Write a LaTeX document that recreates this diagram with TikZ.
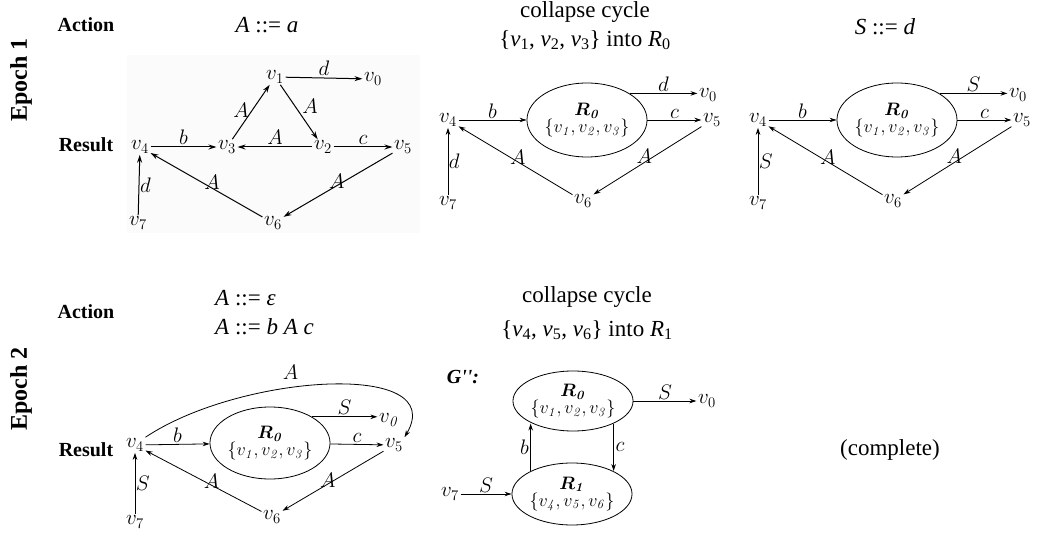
\RequirePackage{fix-cm}
\documentclass[tikz,border=0pt]{standalone}
\usepackage{amsmath}
\usepackage[no-math]{fontspec}
\setmainfont{Liberation Serif}
\newfontfamily\rawserif{Liberation Serif}
\usetikzlibrary{shapes.geometric,arrows.meta}
\newcommand\gfont{\fontsize{21}{21}\selectfont}
\newcommand\efont{\fontsize{18}{15}\selectfont}
\newcommand\hfont{\fontsize{20}{20}\selectfont\bfseries}
\newcommand\dfont{\fontsize{23}{23}\selectfont}
\newcommand\Rz{$\boldsymbol{R}_{\boldsymbol{\mathit{0}}}$}
\newcommand\Ro{$\boldsymbol{R}_{\boldsymbol{\mathit{1}}}$}
\newcommand\vv[1]{\textit{v}\textsubscript{#1}}
\tikzset{
  vtx/.style={inner sep=1.5pt, font=\gfont},
  elab/.style={inner sep=1.5pt, font=\gfont},
  arr/.style={-{Stealth[length=7pt,width=4.5pt]}, line width=0.8pt},
  arrA/.style={-{Stealth[length=8pt,width=5pt]}, line width=1pt},
  reg/.style={ellipse, draw, line width=0.8pt, inner sep=0pt, align=center, font=\efont},
  hd/.style={font=\hfont, inner sep=0pt},
  rot/.style={font=\fontsize{24}{24}\selectfont\bfseries, rotate=90, inner sep=0pt},
  desc/.style={font=\dfont, inner sep=0pt},
}
\begin{document}
\begin{tikzpicture}[x=1pt,y=-1pt]
\useasboundingbox (0,0) rectangle (1042,537);
% ---------- row labels ----------
\node[rot] (ep1) at (21,80) {Epoch 1};
\node[rot] (ep2) at (21,389) {Epoch 2};
\node[hd] (act1) at (86,25) {Action};
\node[hd] (res1) at (86,145) {Result};
\node[hd] (act2) at (86,312) {Action};
\node[hd] (res2) at (86,450) {Result};
% ---------- descriptions ----------
\node[desc] (d1) at (267,25) {\textit{A} ::= \textit{a}};
\node[desc] (d2a) at (585,12) {collapse cycle};
\node[desc] (d2b) at (585,40) {\{\vv{1}, \vv{2}, \vv{3}\} into \textit{R}\textsubscript{0}};
\node[desc] (d3) at (885,27) {\textit{S} ::= \textit{d}};
\node[desc, anchor=west] (d4a) at (215,298) {\textit{A} ::= \textit{ε}};
\node[desc, anchor=west] (d4b) at (215,327) {\textit{A} ::= \textit{b A c}};
\node[desc] (d5a) at (587,297) {collapse cycle};
\node[desc] (d5b) at (587,330) {\{\vv{4}, \vv{5}, \vv{6}\} into \textit{R}\textsubscript{1}};
\node[desc] (d6) at (890,450) {(complete)};
% ---------- graph 1 ----------
\fill[black!1.5] (127,55) rectangle (420,233);
\node[vtx] (a1) at (275,77) {$v_1$};
\node[vtx] (a0) at (373,79) {$v_0$};
\node[vtx] (a3) at (227,147) {$v_3$};
\node[vtx] (a2) at (323,147) {$v_2$};
\node[vtx] (a5) at (403,147) {$v_5$};
\node[vtx] (a4) at (140,147) {$v_4$};
\node[vtx] (a7) at (138,223) {$v_7$};
\node[vtx] (a6) at (273,223) {$v_6$};
\draw[arrA] (a1) -- node[elab, above] {$d$} (a0);
\draw[arrA] (a3) -- node[elab, midway, xshift=-10pt, yshift=2pt] {$A$} (a1);
\draw[arrA] (a1) -- node[elab, midway, xshift=11pt, yshift=6pt] {$A$} (a2);
\draw[arrA] (a2) -- node[elab, above] {$A$} (a3);
\draw[arrA] (a4) -- node[elab, above] {$b$} (a3);
\draw[arrA] (a2) -- node[elab, above] {$c$} (a5);
\draw[arrA] (a7) -- node[elab, right, inner sep=0.5pt] {$d$} (a4);
\draw[arrA] (a6) -- node[elab, pos=0.45, yshift=6pt] {$A$} (a4);
\draw[arrA] (a5) -- node[elab, pos=0.51, yshift=4pt] {$A$} (a6);
% ---------- graph 2 ----------
\node[reg, minimum width=112pt, minimum height=74pt] (bR) at (587,120) {\Rz\\$\{v_{\mathit{1}},v_{\mathit{2}},v_{\mathit{3}}\}$};
\node[vtx] (b4) at (448,120) {$v_4$};
\node[vtx] (b7) at (448,203) {$v_7$};
\node[vtx] (b6) at (583,201) {$v_6$};
\node[vtx] (b0) at (708,95) {$v_0$};
\node[vtx] (b5) at (712,120) {$v_5$};
\draw[arr] (b4) -- node[elab, above] {$b$} (bR);
\draw[arr] (bR.32) -- node[elab, above] {$d$} (bR.32 -| b0.west);
\draw[arr] (bR) -- node[elab, above] {$c$} (b5);
\draw[arr] (b7) -- node[elab, right, inner sep=0.5pt] {$d$} (b4);
\draw[arr] (b6) -- node[elab, pos=0.48, yshift=5pt] {$A$} (b4);
\draw[arr] (b5) -- node[elab, pos=0.53, yshift=6pt] {$A$} (b6);
% ---------- graph 3 ----------
\node[reg, minimum width=112pt, minimum height=74pt] (cR) at (897,120) {\Rz\\$\{v_{\mathit{1}},v_{\mathit{2}},v_{\mathit{3}}\}$};
\node[vtx] (c4) at (758,120) {$v_4$};
\node[vtx] (c7) at (758,203) {$v_7$};
\node[vtx] (c6) at (893,201) {$v_6$};
\node[vtx] (c0) at (1018,95) {$v_0$};
\node[vtx] (c5) at (1022,120) {$v_5$};
\draw[arr] (c4) -- node[elab, above] {$b$} (cR);
\draw[arr] (cR.32) -- node[elab, above] {$S$} (cR.32 -| c0.west);
\draw[arr] (cR) -- node[elab, above] {$c$} (c5);
\draw[arr] (c7) -- node[elab, right, inner sep=0.5pt] {$S$} (c4);
\draw[arr] (c6) -- node[elab, pos=0.48, yshift=5pt] {$A$} (c4);
\draw[arr] (c5) -- node[elab, pos=0.53, yshift=6pt] {$A$} (c6);
% ---------- graph 4 ----------
\node[reg, minimum width=108pt, minimum height=72pt] (eR) at (270,443) {\Rz\\$\{v_{\mathit{1}},v_{\mathit{2}},v_{\mathit{3}}\}$};
\node[vtx] (e4) at (135,445) {$v_4$};
\node[vtx] (e7) at (135,522) {$v_7$};
\node[vtx] (e6) at (272,517) {$v_6$};
\node[vtx] (e0) at (389,420) {$v_{\mathit{0}}$};
\node[vtx] (e5) at (394,445) {$v_5$};
\draw[arr] (e4) -- node[elab, above] {$b$} (eR);
\draw[arr] (eR.32) -- node[elab, above] {$S$} (eR.32 -| e0.west);
\draw[arr] (eR) -- node[elab, above] {$c$} (e5);
\draw[arr] (e7) -- node[elab, right, inner sep=0.5pt] {$S$} (e4);
\draw[arr] (e6) -- node[elab, pos=0.43, yshift=4pt] {$A$} (e4);
\draw[arr] (e5) -- node[elab, pos=0.55, yshift=4pt] {$A$} (e6);
\draw[arr] (e4.north east) .. controls (240,374) and (450,360) .. node[elab, pos=0.4, above, yshift=6pt] {$A$} (e5.north east);
% ---------- graph 5 ----------
\node[font=\fontsize{20}{20}\selectfont\rawserif\bfseries\itshape, inner sep=0pt] (gpp) at (463,377) {G'':};
\node[reg, minimum width=112pt, minimum height=60pt] (fR0) at (573,401) {\Rz\\$\{v_{\mathit{1}},v_{\mathit{2}},v_{\mathit{3}}\}$};
\node[reg, minimum width=110pt, minimum height=62pt] (fR1) at (572,494) {\Ro\\$\{v_{\mathit{4}},v_{\mathit{5}},v_{\mathit{6}}\}$};
\node[vtx] (f0) at (707,401) {$v_0$};
\node[vtx] (f7) at (450,494) {$v_7$};
\draw[arr] (fR0) -- node[elab, above] {$S$} (f0);
\draw[arr] (f7) -- node[elab, above] {$S$} (fR1);
\draw[arr] (fR1.151) -- node[elab, left] {$b$} (fR1.151 |- fR0.209);
\draw[arr] (fR0.331) -- node[elab, right] {$c$} (fR0.331 |- fR1.29);
\end{tikzpicture}
\end{document}
